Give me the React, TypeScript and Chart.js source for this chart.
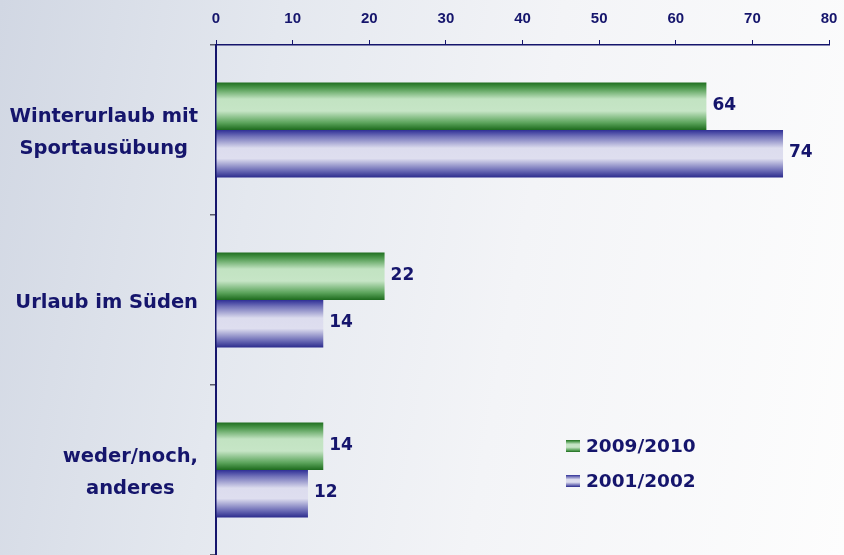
import React, { useEffect, useRef } from "react";
import { Chart, registerables } from "chart.js";

Chart.register(...registerables);

// ---- data ----
const categories: string[][] = [
  ["Winterurlaub mit", "Sportausübung"],
  ["Urlaub im Süden"],
  ["weder/noch,", "anderes"],
];
const seriesLabels = ["2009/2010", "2001/2002"];
const values2009 = [64, 22, 14];
const values2001 = [74, 14, 12];
const xMin = 0;
const xMax = 80;
const xStep = 10;

// ---- styles ----
const NAVY = "#15156c";
const FONT = "'DejaVu Sans', 'Liberation Sans', Arial, sans-serif";
const NARROW = "'Liberation Sans Narrow', 'Liberation Sans', Arial, sans-serif";

const STOPS: [number, string][][] = [
  [
    [0, "#1f6e1f"],
    [0.12, "#4f9a4f"],
    [0.35, "#c2e3c2"],
    [0.6, "#c6e5c6"],
    [0.85, "#5aa35a"],
    [1, "#1d6a1d"],
  ],
  [
    [0, "#2f2f96"],
    [0.14, "#7474ba"],
    [0.38, "#dcdcee"],
    [0.6, "#dedeef"],
    [0.85, "#6d6db6"],
    [1, "#2a2a8c"],
  ],
];

function makeGrad(ctx: CanvasRenderingContext2D, top: number, bottom: number, stops: [number, string][]) {
  const g = ctx.createLinearGradient(0, top, 0, bottom);
  stops.forEach(([o, c]) => g.addColorStop(o, c));
  return g;
}

const decorPlugin = {
  id: "decor",
  beforeDatasetsDraw(chart: any) {
    const ctx = chart.ctx;
    chart.data.datasets.forEach((_ds: any, di: number) => {
      const meta = chart.getDatasetMeta(di);
      meta.data.forEach((el: any) => {
        const h = el.height;
        const top = el.y - h / 2;
        el.options = { ...el.options, backgroundColor: makeGrad(ctx, top, top + h, STOPS[di]) };
      });
    });
  },
  afterDatasetsDraw(chart: any) {
    const ctx = chart.ctx;
    ctx.save();
    ctx.fillStyle = NAVY;
    ctx.font = `bold 17px ${FONT}`;
    ctx.textAlign = "left";
    ctx.textBaseline = "middle";
    chart.data.datasets.forEach((ds: any, di: number) => {
      const meta = chart.getDatasetMeta(di);
      meta.data.forEach((el: any, i: number) => {
        ctx.fillText(String(ds.data[i]), el.x + 6, el.y - 1);
      });
    });
    ctx.restore();
  },
  afterDraw(chart: any) {
    const ctx = chart.ctx;
    const yScale = chart.scales.y;
    ctx.save();
    ctx.fillStyle = NAVY;
    ctx.font = `bold 19.5px ${FONT}`;
    ctx.textAlign = "center";
    ctx.textBaseline = "middle";
    const rightEdge = yScale.right - 18;
    const lh = 32;
    categories.forEach((lines, i) => {
      const cy = yScale.getPixelForValue(i) + 3;
      const maxW = Math.max(...lines.map((l) => ctx.measureText(l).width));
      const cx = rightEdge - maxW / 2;
      const startY = cy - ((lines.length - 1) * lh) / 2;
      lines.forEach((l, k) => ctx.fillText(l, cx, startY + k * lh));
    });

    // legend
    const lx = 566;
    const ly = [446, 481];
    ctx.textAlign = "left";
    ctx.font = `bold 18.5px ${FONT}`;
    seriesLabels.forEach((lab, i) => {
      const top = ly[i] - 6;
      ctx.fillStyle = makeGrad(ctx, top, top + 12, STOPS[i]);
      ctx.fillRect(lx, top, 14, 12);
      ctx.fillStyle = NAVY;
      ctx.fillText(lab, lx + 20, ly[i] + 1);
    });
    ctx.restore();
  },
};

export default function App() {
  const ref = useRef<HTMLCanvasElement | null>(null);

  useEffect(() => {
    document.body.style.margin = "0";
    document.body.style.overflow = "hidden";
    const canvas = ref.current;
    if (!canvas) return;
    const chart = new Chart(canvas, {
      type: "bar",
      data: {
        labels: categories.map((c) => c.join(" ")),
        datasets: [
          { label: seriesLabels[0], data: values2009, backgroundColor: "#4f9a4f", borderWidth: 0 },
          { label: seriesLabels[1], data: values2001, backgroundColor: "#7474ba", borderWidth: 0 },
        ],
      },
      options: {
        indexAxis: "y",
        responsive: false,
        animation: false,
        devicePixelRatio: 1,
        layout: { padding: { left: 0, right: 15, top: 0, bottom: 0 } },
        datasets: { bar: { categoryPercentage: 0.56, barPercentage: 1 } },
        plugins: { legend: { display: false }, tooltip: { enabled: false } },
        scales: {
          x: {
            type: "linear",
            position: "top",
            min: xMin,
            max: xMax,
            ticks: {
              stepSize: xStep,
              color: NAVY,
              font: { family: NARROW, size: 15, weight: "bold" },
              padding: 12,
            },
            grid: { drawOnChartArea: false, tickLength: 5, color: NAVY, lineWidth: 1 },
            border: { color: NAVY, width: 1.5 },
            afterFit: (s: any) => {
              s.height = 45;
              s.paddingRight = 0;
              s.paddingLeft = 0;
            },
          },
          y: {
            type: "category",
            position: "left",
            offset: true,
            ticks: { display: false },
            grid: { drawOnChartArea: false, tickLength: 6, color: "#5a5a6a", lineWidth: 1.5, offset: true },
            border: { color: NAVY, width: 2 },
            afterFit: (s: any) => {
              s.width = 216;
            },
          },
        },
      },
      plugins: [decorPlugin],
    } as any);
    return () => chart.destroy();
  }, []);

  return (
    <div
      style={{
        width: 844,
        height: 555,
        background: "linear-gradient(100deg, #d1d7e3 0%, #e4e8ef 30%, #f3f4f7 60%, #fdfdfd 100%)",
      }}
    >
      <canvas ref={ref} width={844} height={555} style={{ display: "block" }} />
    </div>
  );
}
